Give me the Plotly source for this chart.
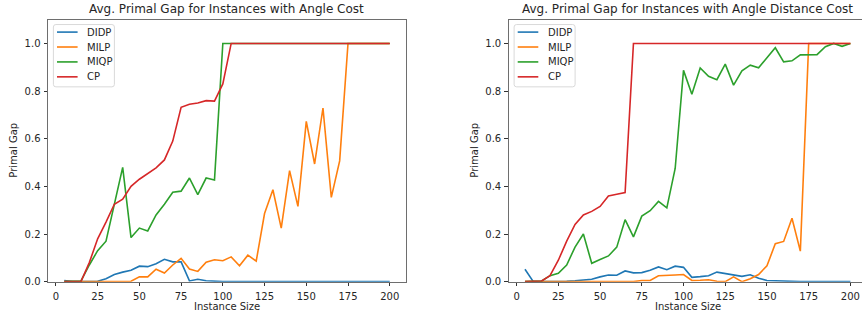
import plotly.graph_objects as go

W, H = 862, 322

sizes = list(range(5, 205, 5))
tick_x = [0, 25, 50, 75, 100, 125, 150, 175, 200]
tick_y = [0.0, 0.2, 0.4, 0.6, 0.8, 1.0]
solvers = ["DIDP", "MILP", "MIQP", "CP"]
colors = ["#1f77b4", "#ff7f0e", "#2ca02c", "#d62728"]
titles = ["Avg. Primal Gap for Instances with Angle Cost",
          "Avg. Primal Gap for Instances with Angle Distance Cost"]

# ---- left panel: Angle Cost ----
angle_didp = [0.005, 0.0, 0.0, 0.0, 0.002, 0.012, 0.03, 0.04, 0.048, 0.065,
              0.063, 0.075, 0.094, 0.083, 0.083, 0.003, 0.01, 0.004, 0.001, 0.0,
              0.0, 0.0, 0.0, 0.0, 0.0, 0.0, 0.0, 0.0, 0.0, 0.0,
              0.0, 0.0, 0.0, 0.0, 0.0, 0.0, 0.0, 0.0, 0.0, 0.0]
angle_milp = [0.0, 0.0, 0.0, 0.0, 0.0, 0.0, 0.0, 0.0, 0.002, 0.02,
              0.02, 0.052, 0.036, 0.07, 0.098, 0.053, 0.043, 0.082, 0.092, 0.088,
              0.104, 0.067, 0.111, 0.086, 0.286, 0.386, 0.225, 0.466, 0.316, 0.673,
              0.494, 0.729, 0.354, 0.507, 1.0, 1.0, 1.0, 1.0, 1.0, 1.0]
angle_miqp = [0.0, 0.0, 0.003, 0.07, 0.13, 0.17, 0.33, 0.48, 0.185, 0.225,
              0.213, 0.28, 0.325, 0.375, 0.38, 0.435, 0.365, 0.435, 0.427, 1.0,
              1.0, 1.0, 1.0, 1.0, 1.0, 1.0, 1.0, 1.0, 1.0, 1.0,
              1.0, 1.0, 1.0, 1.0, 1.0, 1.0, 1.0, 1.0, 1.0, 1.0]
angle_cp = [0.0, 0.0, 0.0, 0.08, 0.18, 0.25, 0.325, 0.346, 0.40, 0.43,
            0.455, 0.478, 0.511, 0.59, 0.732, 0.745, 0.75, 0.76, 0.758, 0.83,
            1.0, 1.0, 1.0, 1.0, 1.0, 1.0, 1.0, 1.0, 1.0, 1.0,
            1.0, 1.0, 1.0, 1.0, 1.0, 1.0, 1.0, 1.0, 1.0, 1.0]

# ---- right panel: Angle Distance Cost ----
dist_didp = [0.052, 0.0, 0.0, 0.0, 0.0, 0.002, 0.004, 0.007, 0.01, 0.02,
             0.028, 0.027, 0.045, 0.037, 0.038, 0.048, 0.062, 0.05, 0.065, 0.06,
             0.018, 0.021, 0.025, 0.04, 0.034, 0.026, 0.022, 0.029, 0.014, 0.005,
             0.003, 0.001, 0.0, 0.0, 0.0, 0.0, 0.0, 0.0, 0.0, 0.0]
dist_milp = [0.0, 0.0, 0.0, 0.0, 0.0, 0.0, 0.0, 0.0, 0.0, 0.0,
             0.0, 0.0, 0.0, 0.0, 0.005, 0.005, 0.025, 0.025, 0.028, 0.03,
             0.005, 0.006, 0.008, 0.002, 0.0, 0.02, 0.0, 0.012, 0.03, 0.067,
             0.159, 0.169, 0.266, 0.128, 1.0, 1.0, 1.0, 1.0, 1.0, 1.0]
dist_miqp = [0.0, 0.0, 0.003, 0.025, 0.035, 0.07, 0.145, 0.2, 0.077, 0.093,
             0.108, 0.145, 0.26, 0.188, 0.275, 0.298, 0.337, 0.31, 0.475, 0.887,
             0.787, 0.897, 0.862, 0.848, 0.913, 0.825, 0.885, 0.909, 0.898, 0.94,
             0.982, 0.923, 0.927, 0.952, 0.952, 0.953, 0.986, 1.0, 0.988, 1.0]
dist_cp = [0.0, 0.0, 0.003, 0.025, 0.09, 0.17, 0.24, 0.28, 0.295, 0.316,
           0.36, 0.367, 0.374, 1.0, 1.0, 1.0, 1.0, 1.0, 1.0, 1.0,
           1.0, 1.0, 1.0, 1.0, 1.0, 1.0, 1.0, 1.0, 1.0, 1.0,
           1.0, 1.0, 1.0, 1.0, 1.0, 1.0, 1.0, 1.0, 1.0, 1.0]

panels = [
    [angle_didp, angle_milp, angle_miqp, angle_cp],
    [dist_didp, dist_milp, dist_miqp, dist_cp],
]

FONT = "DejaVu Sans"
TXT = "#262626"


def px(x):
    return x / W


def py(y):
    return 1 - y / H


# axes geometry (pixels)
ax_left = [48.0, 508.7]
ax_right = [406.0, 862.0]
ax_top, ax_bot = 20.0, 287.0
xranges = [[-4.75, 209.75], [-4.75, 206.95]]

fig = go.Figure()

for p, series in enumerate(panels):
    xa = "x" if p == 0 else "x2"
    ya = "y" if p == 0 else "y2"
    for name, col, vals in zip(solvers, colors, series):
        fig.add_trace(go.Scatter(
            x=sizes, y=vals, mode="lines", name=name,
            line=dict(color=col, width=1.6),
            xaxis=xa, yaxis=ya, showlegend=False,
        ))

axis_common = dict(
    showgrid=False, zeroline=False, showline=True, linecolor="#6e6e6e",
    linewidth=1, ticks="outside", ticklen=3.5, tickwidth=0.8, tickcolor="#333",
    tickfont=dict(family=FONT, size=10, color=TXT),
)

for p in range(2):
    sfx = "" if p == 0 else "2"
    fig.update_layout(**{
        "xaxis" + sfx: dict(
            axis_common,
            domain=[px(ax_left[p]), min(1.0, px(ax_right[p]))],
            range=xranges[p], tickvals=tick_x, mirror=True,
            anchor="y" + sfx, ticklabelstandoff=2,
        ),
        "yaxis" + sfx: dict(
            axis_common,
            domain=[py(ax_bot), py(ax_top)],
            range=[0, 1.1], tickvals=tick_y, tickformat=".1f",
            mirror=(p == 0), anchor="x" + sfx, ticklabelstandoff=1,
        ),
    })

annotations = []
shapes = []
title_cx = [227.0, 687.6]
ylab_x = [14.0, 475.0]
for p in range(2):
    annotations.append(dict(
        text=titles[p], x=px(title_cx[p]), y=py(9.5), xref="paper", yref="paper",
        xanchor="center", yanchor="middle", showarrow=False,
        font=dict(family=FONT, size=12, color=TXT)))
    annotations.append(dict(
        text="Instance Size", x=px(title_cx[p]), y=py(312.3), xref="paper", yref="paper",
        xanchor="center", yanchor="middle", showarrow=False,
        font=dict(family=FONT, size=10, color=TXT)))
    annotations.append(dict(
        text="Primal Gap", x=px(ylab_x[p]), y=py((ax_top + ax_bot) / 2),
        xref="paper", yref="paper", textangle=-90,
        xanchor="center", yanchor="middle", showarrow=False,
        font=dict(family=FONT, size=10, color=TXT)))

    # legend (matplotlib-style box)
    bx = ax_left[p] + 5.4
    by = 25.0
    bw, bh, r = 61.0, 63.5, 2.5
    x0, x1 = px(bx), px(bx + bw)
    y0, y1 = py(by), py(by + bh)
    rx, ry = r / W, r / H
    path = (f"M{x0 + rx},{y0} L{x1 - rx},{y0} Q{x1},{y0} {x1},{y0 - ry} "
            f"L{x1},{y1 + ry} Q{x1},{y1} {x1 - rx},{y1} L{x0 + rx},{y1} "
            f"Q{x0},{y1} {x0},{y1 + ry} L{x0},{y0 - ry} Q{x0},{y0} {x0 + rx},{y0} Z")
    shapes.append(dict(type="path", path=path, xref="paper", yref="paper",
                       line=dict(color="#d9d9d9", width=1),
                       fillcolor="rgba(255,255,255,0.8)", layer="above"))
    for i, (name, col) in enumerate(zip(solvers, colors)):
        ry_px = 32.7 + i * 15.2
        shapes.append(dict(type="line", xref="paper", yref="paper",
                           x0=px(bx + 3.6), x1=px(bx + 24.2), y0=py(ry_px), y1=py(ry_px),
                           line=dict(color=col, width=1.6), layer="above"))
        annotations.append(dict(
            text=name, x=px(bx + 32.0), y=py(ry_px), xref="paper", yref="paper",
            xanchor="left", yanchor="middle", showarrow=False,
            font=dict(family=FONT, size=10, color=TXT)))

fig.update_layout(
    width=W, height=H,
    margin=dict(l=0, r=0, t=0, b=0),
    paper_bgcolor="white", plot_bgcolor="white",
    showlegend=False,
    annotations=annotations, shapes=shapes,
)

fig.write_html("out.html")
